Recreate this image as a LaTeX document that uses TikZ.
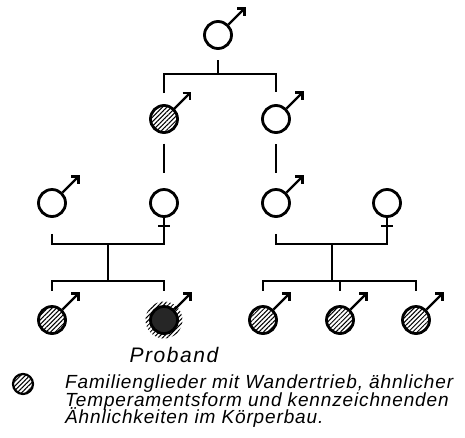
\documentclass[tikz,border=0pt]{standalone}
\usepackage{fontspec}
\setmainfont{Liberation Sans}
\newfontfamily\legfont[LetterSpace=4.5]{Liberation Sans}
\newfontfamily\probfont[LetterSpace=7.5]{Liberation Sans}
\usetikzlibrary{arrows.meta,patterns.meta,calc}

\begin{document}
\begin{tikzpicture}[x=1pt, y=-1pt,
	person/.style={circle, draw, line width=2.8pt, minimum size=27pt, inner sep=0pt},
	hatch/.style={person, pattern={Lines[angle=45, distance=3.2pt, line width=1pt]}},
	line/.style={line width=2.8pt},
	arr/.style={line width=2.3pt, -{Straight Barb[length=5pt, width=10pt]}},
	legend/.style={anchor=base west, inner sep=0pt, font=\legfont\fontsize{19}{20}\selectfont\itshape}]
	\useasboundingbox (0, 0) rectangle (465, 437);
	\node (0) [person] at (218, 35) {};
	\node (1) [hatch] at (164, 119) {};
	\node (2) [person] at (276, 119) {};
	\node (3) [person] at (52, 203) {};
	\node (4) [person] at (164, 203) {};
	\node (5) [person] at (276, 203) {};
	\node (6) [person] at (387, 203) {};
	\node (7) [hatch] at (52, 320) {};
	\path [pattern={Lines[angle=45, distance=3.2pt, line width=1pt]}] (164, 320) circle (18.5);
	\node (8) [person, fill=black!85] at (164, 320) {};
	\node (9) [hatch] at (263, 320) {};
	\node (10) [hatch] at (340, 320) {};
	\node (11) [hatch] at (416, 320) {};
	\coordinate (s0) at (218, 74);
	\coordinate (m0) at (108, 244);
	\coordinate (s1) at (108, 281);
	\coordinate (m1) at (332, 244);
	\coordinate (s2) at (332, 281);
	\foreach \n in {0, 1, 2, 3, 5, 7, 8, 9, 10, 11}
		\draw [arr] (\n.north east) -- ++(17, -17);
	\foreach \n in {4, 6}
		\draw [line] ($(\n.south)+(-6, 8)$) -- ($(\n.south)+(6, 8)$);
	\draw [line, shorten <=10.5pt] (0) -- (s0);
	\draw [line, shorten <=12pt, shorten >=12pt] (1) |- (s0) -| (2);
	\draw [line, shorten <=10.5pt, shorten >=15.5pt] (1) -- (4);
	\draw [line, shorten <=10.5pt, shorten >=15.5pt] (2) -- (5);
	\draw [line, shorten <=16pt] (3) |- (m0) -| (4);
	\draw [line, shorten <=16pt] (5) |- (m1) -| (6);
	\draw [line] (m0) -- (s1);
	\draw [line] (m1) -- (s2);
	\draw [line, shorten <=14.5pt, shorten >=14.5pt] (7) |- (s1) -| (8);
	\draw [line, shorten <=14.5pt, shorten >=14.5pt] (9) |- (s2) -| (11);
	\draw [line, shorten >=14.5pt] (s2 -| 10) -- (10);
	\node (13) [anchor=base, font=\probfont\fontsize{21}{24}\selectfont\itshape] at (174, 362) {Proband};
	\node (12) [hatch, minimum size=20pt, line width=2.2pt] at (23, 384) {};
	\node (14) [legend] at (65, 388) {Familienglieder mit Wandertrieb, ähnlicher};
	\node (15) [legend] at (65, 406) {Temperamentsform und kennzeichnenden};
	\node (16) [legend] at (65, 423) {Ähnlichkeiten im Körperbau.};
\end{tikzpicture}
\end{document}
